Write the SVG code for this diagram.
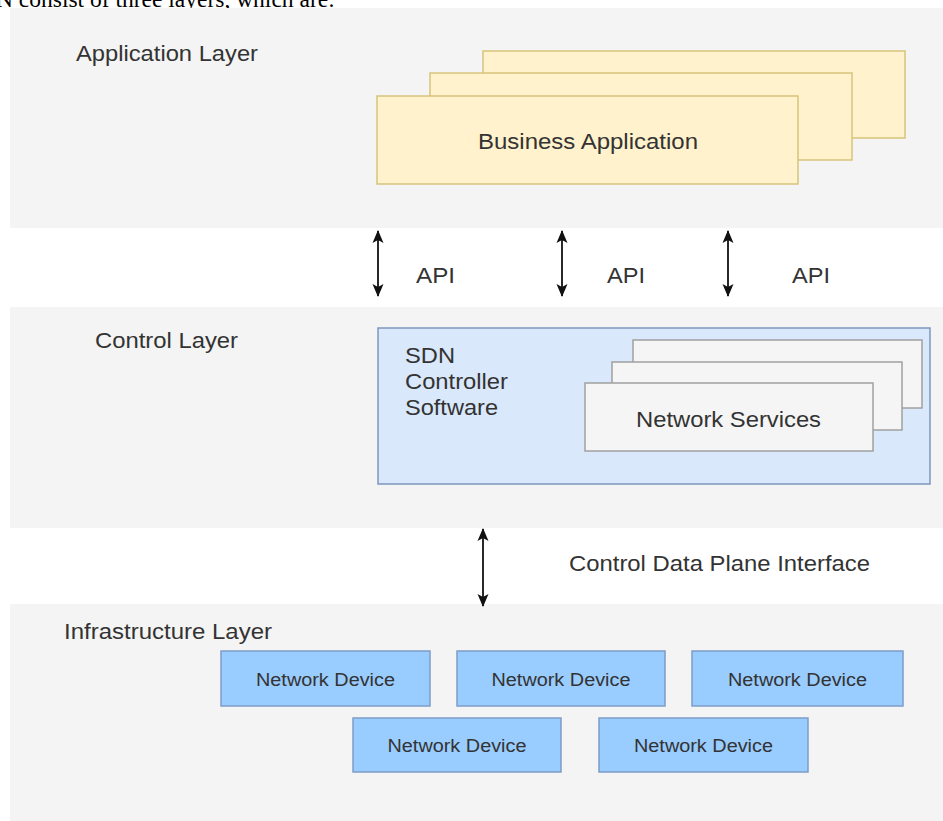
<svg xmlns="http://www.w3.org/2000/svg" width="943" height="821" viewBox="0 0 943 821">
<style>
.panel{fill:#f4f4f4;stroke:none}
.lbl{font-family:"Liberation Sans",Arial,sans-serif;font-size:22px;fill:#333}
.dev{fill:#99ccff;stroke:#7d9cc7;stroke-width:1.5}
.devt{font-family:"Liberation Sans",Arial,sans-serif;font-size:18px;fill:#333;text-anchor:middle}
.yel{fill:#fff2cc;stroke:#d6c47a;stroke-width:1.5}
.svc{fill:#f5f5f5;stroke:#a0a0a0;stroke-width:1.5}
.conn{stroke:#111;stroke-width:1.8;fill:none;marker-start:url(#ah);marker-end:url(#ah)}
</style>
<defs>
<marker id="ah" viewBox="0 0 13 13" refX="12" refY="6.5" markerWidth="13" markerHeight="13" markerUnits="userSpaceOnUse" orient="auto-start-reverse">
<path d="M0,1 L13,6.5 L0,12 L3,6.5 Z" fill="#111"/>
</marker>
</defs>
<rect width="943" height="821" fill="#ffffff"/>
<text x="-4" y="7" font-family="Liberation Serif,serif" font-size="23.5" fill="#000">N consist of three layers, which are:</text>

<g id="application-layer">
<rect class="panel" x="10" y="8" width="933" height="220"/>
<text class="lbl" x="76" y="61" textLength="182" lengthAdjust="spacingAndGlyphs">Application Layer</text>
</g>
<g id="business-application">
<rect class="yel" x="483" y="51" width="422" height="87"/>
<rect class="yel" x="430" y="73" width="422" height="87"/>
<rect class="yel" x="377" y="96" width="421" height="88"/>
<text class="lbl" x="478" y="149" textLength="220" lengthAdjust="spacingAndGlyphs">Business Application</text>
</g>

<g id="control-layer">
<rect class="panel" x="10" y="307" width="933" height="221"/>
<text class="lbl" x="95" y="348" textLength="143" lengthAdjust="spacingAndGlyphs">Control Layer</text>
</g>
<g id="sdn-controller">
<rect x="378" y="328" width="552" height="156" fill="#dae8fc" stroke="#7d96bd" stroke-width="1.5"/>
<text class="lbl" x="405" y="363" textLength="50" lengthAdjust="spacingAndGlyphs">SDN</text>
<text class="lbl" x="405" y="389" textLength="103" lengthAdjust="spacingAndGlyphs">Controller</text>
<text class="lbl" x="405" y="415" textLength="93" lengthAdjust="spacingAndGlyphs">Software</text>
</g>
<g id="network-services">
<rect class="svc" x="633" y="340" width="289" height="68"/>
<rect class="svc" x="612" y="362" width="290" height="68"/>
<rect class="svc" x="585" y="383" width="288" height="68"/>
<text class="lbl" x="636" y="427" textLength="185" lengthAdjust="spacingAndGlyphs">Network Services</text>
</g>

<g id="infrastructure-layer">
<rect class="panel" x="10" y="604" width="933" height="217"/>
<text class="lbl" x="64" y="639" textLength="208" lengthAdjust="spacingAndGlyphs">Infrastructure Layer</text>
</g>
<g id="device-1"><rect class="dev" x="221" y="651" width="209" height="55"/><text class="devt" x="325.5" y="686" textLength="139" lengthAdjust="spacingAndGlyphs">Network Device</text></g>
<g id="device-2"><rect class="dev" x="457" y="651" width="208" height="55"/><text class="devt" x="561" y="686" textLength="139" lengthAdjust="spacingAndGlyphs">Network Device</text></g>
<g id="device-3"><rect class="dev" x="692" y="651" width="211" height="55"/><text class="devt" x="797.5" y="686" textLength="139" lengthAdjust="spacingAndGlyphs">Network Device</text></g>
<g id="device-4"><rect class="dev" x="353" y="718" width="208" height="54"/><text class="devt" x="457" y="752" textLength="139" lengthAdjust="spacingAndGlyphs">Network Device</text></g>
<g id="device-5"><rect class="dev" x="599" y="718" width="209" height="54"/><text class="devt" x="703.5" y="752" textLength="139" lengthAdjust="spacingAndGlyphs">Network Device</text></g>

<g id="connectors">
<line class="conn" x1="378" y1="231" x2="378" y2="296"/>
<line class="conn" x1="562" y1="231" x2="562" y2="296"/>
<line class="conn" x1="728" y1="231" x2="728" y2="296"/>
<line class="conn" x1="483" y1="529" x2="483" y2="606"/>
<text class="lbl" x="416" y="283" textLength="39" lengthAdjust="spacingAndGlyphs">API</text>
<text class="lbl" x="607" y="283" textLength="38" lengthAdjust="spacingAndGlyphs">API</text>
<text class="lbl" x="792" y="283" textLength="38" lengthAdjust="spacingAndGlyphs">API</text>
<text class="lbl" x="569" y="571" textLength="301" lengthAdjust="spacingAndGlyphs">Control Data Plane Interface</text>
</g>
</svg>
